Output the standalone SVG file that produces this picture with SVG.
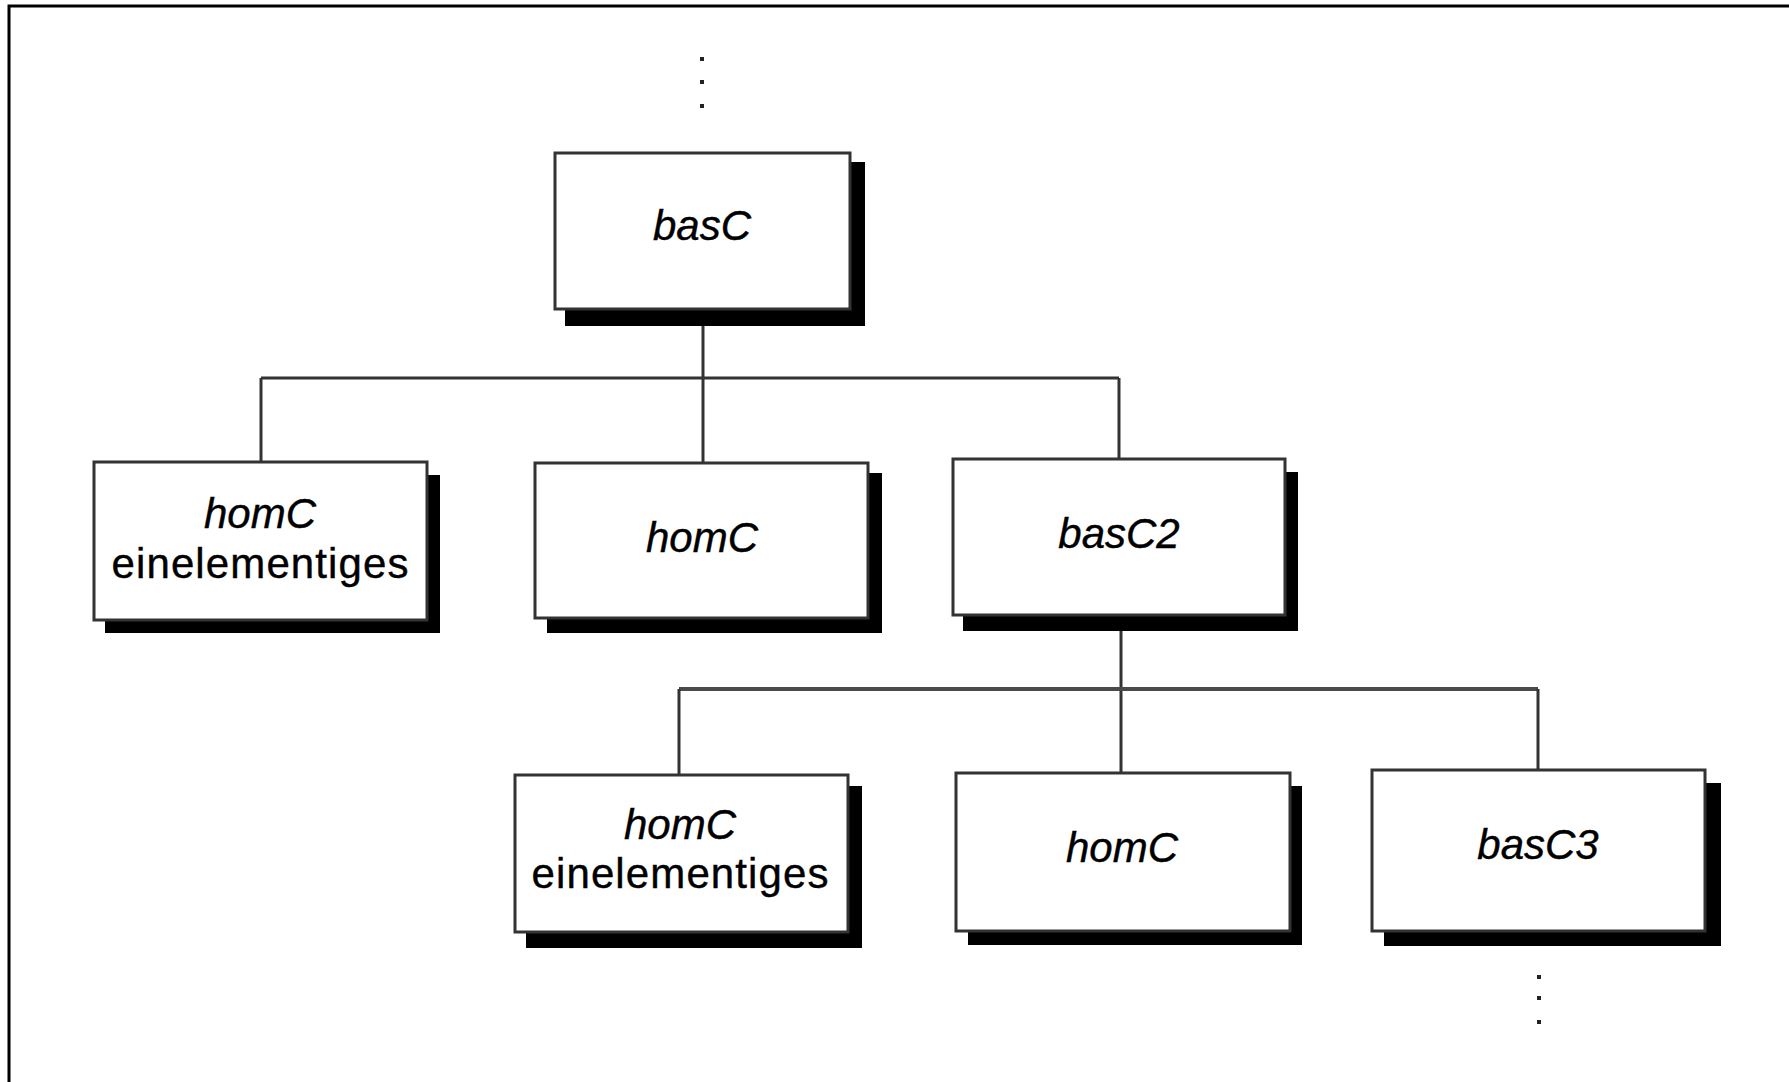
<svg xmlns="http://www.w3.org/2000/svg" width="1789" height="1082" viewBox="0 0 1789 1082">
  <style>
    .frame { fill: none; stroke: #000; stroke-width: 3; }
    .shadow { fill: #000; }
    .box { fill: #fff; stroke: #333; stroke-width: 3; }
    .wire { fill: none; stroke: #333; stroke-width: 3; }
    .wire2 { fill: none; stroke: #4a4a4a; stroke-width: 4; }
    .lbl { font-family: "Liberation Sans", Arial, sans-serif; font-size: 42px; fill: #000; text-anchor: middle; stroke: #000; stroke-width: 0.4; }
    .it { font-style: italic; }
    .dot { fill: #222; }
  </style>

  <rect width="1789" height="1082" fill="#fff"/>
  <rect class="frame" x="9" y="6" width="1800" height="1100"/>

  <!-- continuation dots -->
  <g id="dots-top">
    <rect class="dot" x="700" y="57" width="4" height="4"/>
    <rect class="dot" x="700" y="80" width="4" height="4"/>
    <rect class="dot" x="700" y="104" width="4" height="4"/>
  </g>
  <g id="dots-bottom">
    <rect class="dot" x="1537" y="975" width="4" height="4"/>
    <rect class="dot" x="1537" y="996" width="4" height="4"/>
    <rect class="dot" x="1537" y="1020" width="4" height="4"/>
  </g>

  <g id="connectors">
    <path class="wire" d="M703 309 V463"/>
    <path class="wire" d="M261 378 H1119"/>
    <path class="wire" d="M261 378 V462"/>
    <path class="wire" d="M1119 378 V459"/>
    <path class="wire" d="M1121 615 V773"/>
    <path class="wire2" d="M679 689 H1538"/>
    <path class="wire" d="M679 689 V775"/>
    <path class="wire" d="M1538 689 V770"/>
  </g>

  <g id="basC">
    <rect class="shadow" x="565" y="162" width="300" height="164"/>
    <rect class="box" x="555" y="153" width="295" height="156"/>
    <text class="lbl it" x="702" y="240">basC</text>
  </g>

  <g id="homC-ein-1">
    <rect class="shadow" x="105" y="475" width="335" height="158"/>
    <rect class="box" x="94" y="462" width="333" height="158"/>
    <text class="lbl it" x="260" y="528">homC</text>
    <text class="lbl" x="260" y="578" textLength="297" lengthAdjust="spacing">einelementiges</text>
  </g>

  <g id="homC-1">
    <rect class="shadow" x="547" y="473" width="335" height="160"/>
    <rect class="box" x="535" y="463" width="333" height="155"/>
    <text class="lbl it" x="702" y="552">homC</text>
  </g>

  <g id="basC2">
    <rect class="shadow" x="963" y="472" width="335" height="159"/>
    <rect class="box" x="953" y="459" width="332" height="156"/>
    <text class="lbl it" x="1119" y="548">basC2</text>
  </g>

  <g id="homC-ein-2">
    <rect class="shadow" x="526" y="786" width="336" height="162"/>
    <rect class="box" x="515" y="775" width="333" height="157"/>
    <text class="lbl it" x="680" y="839">homC</text>
    <text class="lbl" x="680" y="888" textLength="297" lengthAdjust="spacing">einelementiges</text>
  </g>

  <g id="homC-2">
    <rect class="shadow" x="968" y="786" width="334" height="159"/>
    <rect class="box" x="956" y="773" width="334" height="158"/>
    <text class="lbl it" x="1122" y="862">homC</text>
  </g>

  <g id="basC3">
    <rect class="shadow" x="1384" y="783" width="337" height="163"/>
    <rect class="box" x="1372" y="770" width="333" height="161"/>
    <text class="lbl it" x="1538" y="859">basC3</text>
  </g>
</svg>
